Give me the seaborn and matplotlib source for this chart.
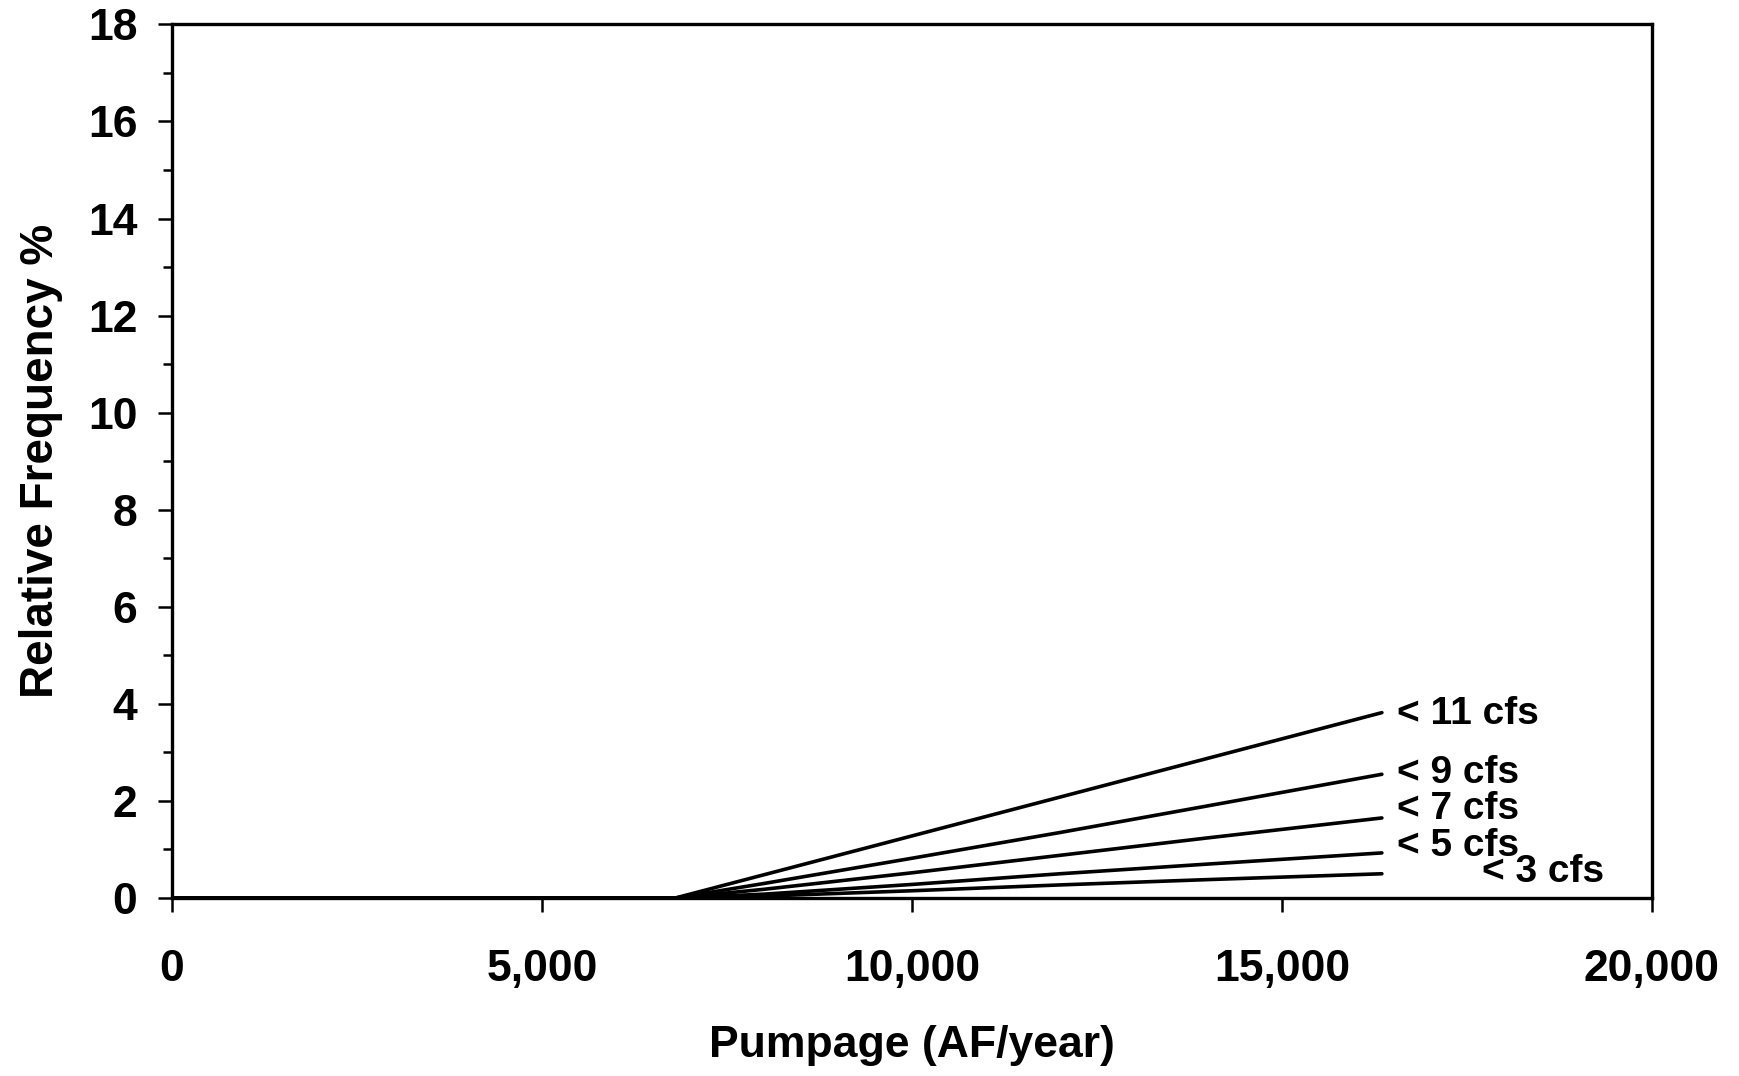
import matplotlib
matplotlib.use("Agg")
import matplotlib.pyplot as plt
from matplotlib.ticker import MultipleLocator, FuncFormatter
import numpy as np
import pandas as pd
import seaborn as sns

# Pumpage (AF/year) and relative frequency (%) of flows below each threshold
pumpage = [0, 6800, 8000, 10000, 12000, 14000, 16350]
freq_lt11 = [0, 0, 0.48, 1.28, 2.08, 2.88, 3.82]
freq_lt9 = [0, 0, 0.30, 0.82, 1.35, 1.90, 2.55]
freq_lt7 = [0, 0, 0.18, 0.52, 0.88, 1.24, 1.65]
freq_lt5 = [0, 0, 0.08, 0.28, 0.50, 0.70, 0.93]
freq_lt3 = [0, 0, 0.04, 0.15, 0.27, 0.38, 0.50]

series_names = ["< 11 cfs", "< 9 cfs", "< 7 cfs", "< 5 cfs", "< 3 cfs"]
series_values = [freq_lt11, freq_lt9, freq_lt7, freq_lt5, freq_lt3]
label_x = [16550, 16550, 16550, 16550, 17700]
label_y = [3.8, 2.57, 1.83, 1.08, 0.53]

x_ticks = [0, 5000, 10000, 15000, 20000]
y_ticks = [0, 2, 4, 6, 8, 10, 12, 14, 16, 18]

sns.set_theme(style="ticks")
plt.rcParams["font.family"] = ["Liberation Sans", "DejaVu Sans"]
plt.rcParams["font.weight"] = "bold"
plt.rcParams["text.color"] = "black"
plt.rcParams["axes.labelcolor"] = "black"

df = pd.DataFrame({
    "Pumpage": np.tile(pumpage, len(series_names)),
    "Frequency": np.concatenate(series_values),
    "Series": np.repeat(series_names, len(pumpage)),
})

fig = plt.figure(figsize=(17.4, 10.76), dpi=100)
ax = fig.add_axes([0.0989, 0.1654, 0.8505, 0.8119])

sns.lineplot(data=df, x="Pumpage", y="Frequency", hue="Series",
             palette=["black"] * len(series_names), legend=False,
             linewidth=2.6, ax=ax, sort=False)

for name, lx, ly in zip(series_names, label_x, label_y):
    ax.text(lx, ly, name, fontsize=28, fontweight="bold", color="black",
            ha="left", va="center")

ax.set_xlim(0, 20000)
ax.set_ylim(0, 18)
ax.set_xticks(x_ticks)
ax.set_yticks(y_ticks)
ax.yaxis.set_minor_locator(MultipleLocator(1))
ax.xaxis.set_major_formatter(FuncFormatter(lambda v, p: f"{int(v):,}"))

for s in ax.spines.values():
    s.set_linewidth(2.4)
    s.set_color("black")

ax.tick_params(axis="y", which="major", direction="out", length=10, width=1.8,
               labelsize=32, pad=15, colors="black")
ax.tick_params(axis="y", which="minor", direction="out", length=6.5, width=1.8,
               left=True, colors="black")
ax.tick_params(axis="x", which="major", direction="out", length=10, width=1.8,
               labelsize=32, pad=27, colors="black")
for lbl in ax.get_xticklabels() + ax.get_yticklabels():
    lbl.set_fontweight("bold")

ax.set_xlabel("Pumpage (AF/year)", fontsize=32, fontweight="bold", color="black")
ax.set_ylabel("Relative Frequency %", fontsize=33, fontweight="bold", color="black")
ax.xaxis.set_label_coords(0.5, -0.145)
ax.yaxis.set_label_coords(-0.074, 0.5)

fig.savefig("out.png", dpi=100, facecolor="white")
